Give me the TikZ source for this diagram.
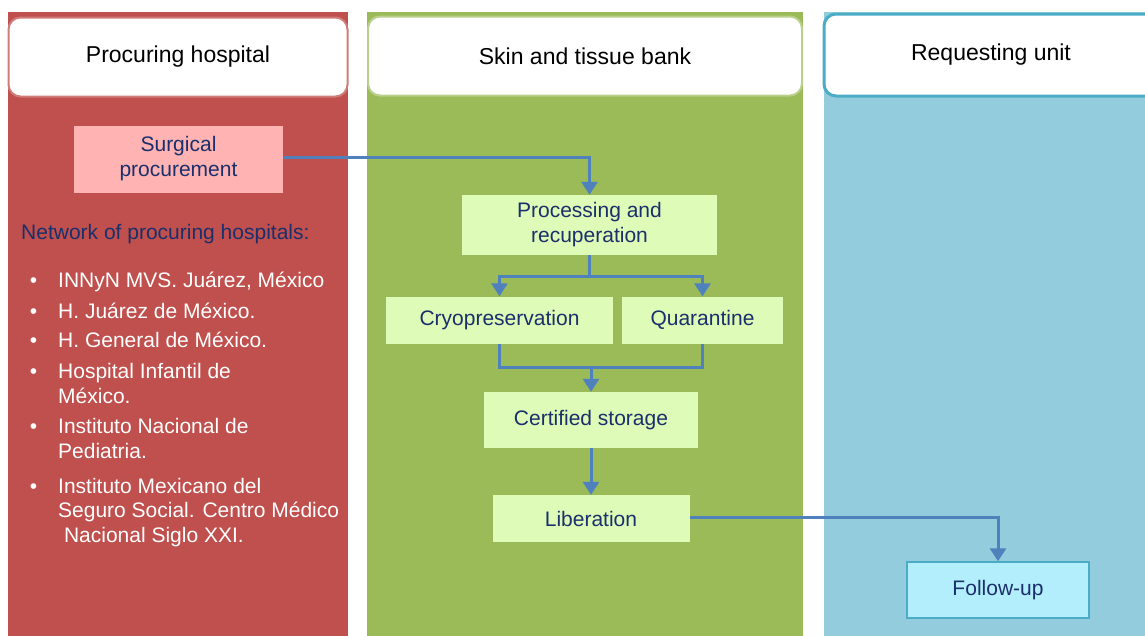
\documentclass[tikz,border=0pt]{standalone}
\usepackage{fontspec}
\setmainfont{Liberation Sans}
\usetikzlibrary{arrows.meta}
\definecolor{hospred}{HTML}{C0504D}
\definecolor{bankgreen}{HTML}{9BBB59}
\definecolor{unitblue}{HTML}{93CDDD}
\definecolor{unitedge}{HTML}{4BACC6}
\definecolor{pinkbox}{HTML}{FFB3B3}
\definecolor{limebox}{HTML}{DEFBB8}
\definecolor{cyanbox}{HTML}{B3EEFC}
\definecolor{navytext}{HTML}{1A2F6B}
\definecolor{flowblue}{HTML}{4F81BD}
\tikzset{
  head/.style={fill=white, rounded corners=12pt, line width=2pt, text=black,
    font=\fontsize{23}{27}\selectfont},
  stepbox/.style={fill=limebox, text=navytext, align=center, inner sep=0pt,
    font=\fontsize{21}{25}\selectfont},
  hosp/.style={anchor=base west, text=white, align=left, inner sep=0pt,
    font=\fontsize{21}{24.5}\selectfont},
  link/.style={draw=flowblue, line width=3pt},
  flow/.style={link, -{Triangle[length=13pt,width=16pt]}},
}
\begin{document}
\begin{tikzpicture}[x=1pt,y=-1pt]
    \useasboundingbox[fill=white] (0,0) rectangle (1145,635);
    % lanes
    \fill[hospred]   (8,12)   rectangle (348,640);
    \fill[bankgreen] (367,12) rectangle (803,640);
    \fill[unitblue]  (824,12) rectangle (1170,640);
    \node[head, draw=hospred!75!white, minimum width=339pt, minimum height=79pt] (hhosp) at (178,57) {Procuring hospital};
    \node[head, draw=bankgreen!70!white, minimum width=434pt, minimum height=79pt] (hbank) at (585,56) {Skin and tissue bank};
    \node[head, draw=unitedge, line width=3pt, minimum width=334pt, minimum height=82pt] (hunit) at (991,55) {Requesting unit};
    % steps
    \node[stepbox, fill=pinkbox, minimum width=209pt, minimum height=67pt] (surg) at (178.5,159) {Surgical\\procurement};
    \node[stepbox, minimum width=255pt, minimum height=60pt] (proc) at (589.5,225) {Processing and\\recuperation};
    \node[stepbox, minimum width=227pt, minimum height=47pt] (cryo) at (499.5,320) {Cryopreservation};
    \node[stepbox, minimum width=161pt, minimum height=47pt] (quar) at (702.5,320) {Quarantine};
    \node[stepbox, minimum width=214pt, minimum height=56pt] (cert) at (591,420) {Certified storage};
    \node[stepbox, minimum width=197pt, minimum height=47pt] (lib)  at (591,518.5) {Liberation};
    \node[stepbox, fill=cyanbox, draw=unitedge, line width=1.5pt, minimum width=182pt, minimum height=56pt] (fol) at (998,590) {Follow-up};
    % network of hospitals
    \node[hosp, text=navytext] (net) at (21,239) {Network of procuring hospitals:};
    \foreach \y/\txt [count=\i] in {287/{INNyN MVS. Juárez, México},
                                    318/{H. Juárez de México.},
                                    347/{H. General de México.},
                                    403/{Hospital Infantil de\\México.},
                                    458/{Instituto Nacional de\\Pediatria.},
                                    542/{Instituto Mexicano del\\Seguro Social. Centro Médico\\\ Nacional Siglo XXI.}}
        \node[hosp] (h\i) at (58,\y) {\makebox[0pt][r]{\textbullet\hspace{21pt}}\txt};
    % connectors
    \coordinate (split) at (589.5,276);
    \coordinate (merge) at (591,367);
    \draw[flow] (surg.east |- 0,157.5) -| (proc.north);
    \draw[link] (proc.south) -- (split);
    \draw[flow] (split) -| (cryo.north);
    \draw[flow] (split) -| (quar.north);
    \draw[link] (cryo.south) |- (merge) -| (quar.south);
    \draw[flow] (merge) -- (cert.north);
    \draw[flow] (cert.south) -- (lib.north);
    \draw[flow] (lib.east |- 0,517.5) -| (fol.north);
\end{tikzpicture}
\end{document}
